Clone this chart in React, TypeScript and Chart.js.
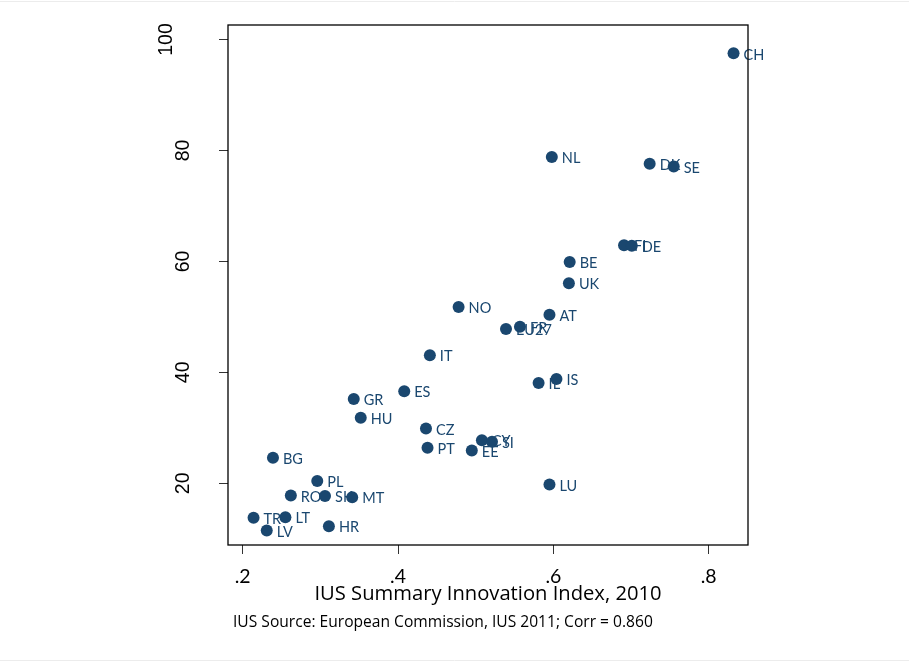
import React, { useEffect, useRef } from 'react';
import { Chart, registerables } from 'chart.js';

Chart.register(...registerables);

const countries = ['CH', 'NL', 'DK', 'SE', 'FI', 'DE', 'BE', 'UK', 'NO', 'AT', 'FR', 'EU27', 'IT', 'IS', 'IL', 'ES', 'GR', 'HU', 'CZ', 'PT', 'CY', 'SI', 'EE', 'LU', 'BG', 'PL', 'RO', 'SK', 'MT', 'TR', 'LT', 'LV', 'HR'];
const iusIndex = [0.832, 0.598, 0.724, 0.755, 0.691, 0.701, 0.621, 0.620, 0.478, 0.595, 0.557, 0.539, 0.441, 0.604, 0.581, 0.408, 0.343, 0.352, 0.436, 0.438, 0.508, 0.521, 0.495, 0.595, 0.239, 0.296, 0.262, 0.306, 0.341, 0.214, 0.255, 0.231, 0.311];
const yValues = [97.5, 78.8, 77.6, 77.1, 62.9, 62.8, 59.9, 56.05, 51.8, 50.4, 48.2, 47.8, 43.1, 38.8, 38.1, 36.6, 35.2, 31.8, 29.9, 26.4, 27.75, 27.5, 25.9, 19.8, 24.6, 20.4, 17.8, 17.7, 17.5, 13.8, 13.9, 11.5, 12.25];

const xTickValues = [0.2, 0.4, 0.6, 0.8];
const xTickLabels = ['.2', '.4', '.6', '.8'];
const yTickValues = [20, 40, 60, 80, 100];
const yTickLabels = ['20', '40', '60', '80', '100'];
const xTitle = 'IUS Summary Innovation Index, 2010';
const caption = 'IUS Source: European Commission, IUS 2011; Corr = 0.860';

const NAVY = '#1a476f';
const LABEL_FONT = 'Lato';
const TEXT_FONT = '"Open Sans"';

export default function App() {
  const canvasRef = useRef<HTMLCanvasElement | null>(null);

  useEffect(() => {
    const canvas = canvasRef.current;
    if (!canvas) return;

    const pointLabels = {
      id: 'pointLabels',
      beforeDatasetsDraw(chart: any) {
        const ctx = chart.ctx;
        const meta = chart.getDatasetMeta(0);
        ctx.save();
        ctx.font = `14.5px ${LABEL_FONT}`;
        ctx.fillStyle = NAVY;
        ctx.textAlign = 'left';
        ctx.textBaseline = 'middle';
        meta.data.forEach((el: any, i: number) => {
          ctx.fillText(countries[i], el.x + 10, el.y + 1.5);
        });
        ctx.restore();
      },
    };

    const frame = {
      id: 'frame',
      beforeDraw(chart: any) {
        const ctx = chart.ctx;
        ctx.save();
        ctx.strokeStyle = '#ececec';
        ctx.lineWidth = 1;
        ctx.beginPath();
        ctx.moveTo(0, 1.5);
        ctx.lineTo(chart.width, 1.5);
        ctx.moveTo(0, 660.5);
        ctx.lineTo(chart.width, 660.5);
        ctx.stroke();
        ctx.restore();
      },
      afterDraw(chart: any) {
        const { ctx, chartArea } = chart;
        ctx.save();
        ctx.strokeStyle = '#000';
        ctx.lineWidth = 1.3;
        ctx.strokeRect(chartArea.left, chartArea.top, chartArea.right - chartArea.left, chartArea.bottom - chartArea.top);
        ctx.font = `15.6px ${TEXT_FONT}`;
        ctx.fillStyle = '#000';
        ctx.textAlign = 'left';
        ctx.textBaseline = 'middle';
        ctx.fillText(caption, 233, 623);
        ctx.restore();
      },
    };

    const chart = new Chart(canvas, {
      type: 'scatter',
      data: {
        datasets: [
          {
            data: iusIndex.map((x, i) => ({ x, y: yValues[i] })),
            backgroundColor: NAVY,
            borderColor: NAVY,
            borderWidth: 0,
            pointRadius: 6,
            pointHoverRadius: 6,
          },
        ],
      },
      options: {
        responsive: false,
        animation: false,
        layout: { padding: { top: 25, right: 161, left: 0, bottom: 0 } },
        plugins: {
          legend: { display: false },
          tooltip: { enabled: false },
        },
        scales: {
          x: {
            type: 'linear',
            position: 'bottom',
            min: 0.1811,
            max: 0.8506,
            afterBuildTicks: (scale: any) => {
              scale.ticks = xTickValues.map((v) => ({ value: v }));
            },
            afterFit: (scale: any) => {
              scale.height = 117;
              scale.paddingLeft = 0;
              scale.paddingRight = 0;
            },
            grid: { drawOnChartArea: false, drawTicks: true, tickLength: 9, color: '#333', lineWidth: 1 },
            border: { display: false },
            ticks: {
              padding: 11,
              color: '#000',
              font: { family: LABEL_FONT, size: 19.5 },
              maxRotation: 0,
              minRotation: 0,
              autoSkip: false,
              callback: (_v: any, i: number) => xTickLabels[i],
            },
            title: {
              display: true,
              text: xTitle,
              color: '#000',
              font: { family: TEXT_FONT, size: 20.2 },
              padding: { top: 0, bottom: 56 },
            },
          },
          y: {
            type: 'linear',
            position: 'left',
            min: 8.88,
            max: 102.61,
            afterBuildTicks: (scale: any) => {
              scale.ticks = yTickValues.map((v) => ({ value: v }));
            },
            afterFit: (scale: any) => {
              scale.width = 228;
              scale.paddingTop = 0;
              scale.paddingBottom = 0;
            },
            grid: { drawOnChartArea: false, drawTicks: true, tickLength: 9, color: '#333', lineWidth: 1 },
            border: { display: false },
            ticks: {
              padding: 19,
              color: '#000',
              font: { family: 'Liberation Sans', size: 19.5, lineHeight: '34px' },
              minRotation: 90,
              maxRotation: 90,
              crossAlign: 'center',
              autoSkip: false,
              // the top label sits further from the axis in the original; a blank second line shifts it
              callback: (_v: any, i: number) => (i === yTickLabels.length - 1 ? [yTickLabels[i], ''] : yTickLabels[i]),
            },
          },
        },
      },
      plugins: [pointLabels, frame],
    } as any);

    return () => chart.destroy();
  }, []);

  return (
    <div style={{ position: 'absolute', left: 0, top: 0, width: 909, height: 662, background: '#fff' }}>
      <canvas ref={canvasRef} width={909} height={662} style={{ display: 'block', width: 909, height: 662 }} />
    </div>
  );
}
